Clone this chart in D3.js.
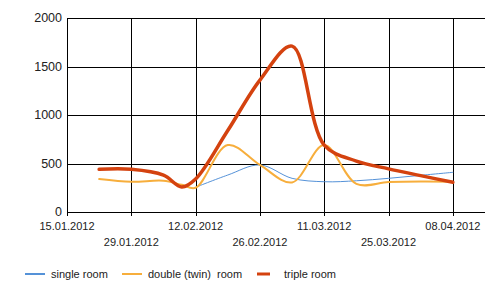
<!DOCTYPE html>
<html>
<head>
<meta charset="utf-8">
<script src="https://cdn.jsdelivr.net/npm/d3@7"></script>
<style>
  body { margin: 0; background: #fff; }
  svg { font-family: Arial, "Liberation Sans", sans-serif; }
  .grid line { stroke: #000; stroke-width: 1; shape-rendering: crispEdges; }
  .axis text { fill: #222; }
</style>
</head>
<body>
<div id="chart"></div>
<script>
// values (mostly weekly, plus the dip on 09.02)
var dates = ['22.01.2012', '29.01.2012', '05.02.2012', '09.02.2012', '12.02.2012', '19.02.2012', '26.02.2012',
             '04.03.2012', '11.03.2012', '18.03.2012', '25.03.2012', '01.04.2012', '08.04.2012'];
var singleRoom = [null, null, null, null, 255, 381, 485, 347, 312, 322, 347, 378, 409];
var doubleRoom = [340, 312, 322, 280, 250, 690, 485, 305, 690, 290, 308, 314, 312];
var tripleRoom = [440, 440, 380, 258, 340, 840, 1360, 1710, 690, 525, 445, 375, 306];
var seriesNames = ['single room', 'double (twin)  room', 'triple room'];
var yTicks = [0, 500, 1000, 1500, 2000];

var parse = d3.timeParse('%d.%m.%Y');
var fmt = d3.timeFormat('%d.%m.%Y');

var width = 500, height = 296;
var margin = { top: 18, right: 15, bottom: 84, left: 67 };

var x = d3.scaleTime()
  .domain([parse('15.01.2012'), parse('15.04.2012')])
  .range([margin.left, width - margin.right]);
var y = d3.scaleLinear()
  .domain([0, 2000])
  .range([height - margin.bottom, margin.top]);

var xTicks = d3.timeDay.range(parse('15.01.2012'), parse('09.04.2012'), 14);

var svg = d3.select('#chart').append('svg')
  .attr('width', width)
  .attr('height', height);

// grid
var grid = svg.append('g').attr('class', 'grid');
grid.selectAll('.h').data(yTicks).enter().append('line')
  .attr('x1', x.range()[0]).attr('x2', x.range()[1])
  .attr('y1', function(d) { return Math.round(y(d)) + 0.5; })
  .attr('y2', function(d) { return Math.round(y(d)) + 0.5; });
grid.selectAll('.v').data(xTicks).enter().append('line')
  .attr('x1', function(d) { return Math.round(x(d)) + 0.5; })
  .attr('x2', function(d) { return Math.round(x(d)) + 0.5; })
  .attr('y1', y(2000)).attr('y2', y(0) + 4);

// y labels
svg.append('g').attr('class', 'axis')
  .selectAll('text').data(yTicks).enter().append('text')
  .attr('x', margin.left - 5)
  .attr('y', function(d) { return y(d); })
  .attr('dy', '0.35em')
  .attr('text-anchor', 'end')
  .style('font-size', '12.5px')
  .text(function(d) { return d; });

// x labels, alternating rows
svg.append('g').attr('class', 'axis')
  .selectAll('text').data(xTicks).enter().append('text')
  .attr('x', function(d) { return x(d); })
  .attr('y', function(d, i) { return i % 2 ? 246 : 230; })
  .attr('text-anchor', 'middle')
  .style('font-size', '11px')
  .text(function(d) { return fmt(d); });

var colors = ['#5592d8', '#f7ae3c', '#d4420f'];
var widths = [1, 2, 3.5];
var series = [singleRoom, doubleRoom, tripleRoom];

var line = d3.line()
  .defined(function(d) { return d.v != null; })
  .x(function(d) { return x(d.date); })
  .y(function(d) { return y(d.v); })
  .curve(d3.curveCatmullRom.alpha(0.5));

series.forEach(function(vals, i) {
  var pts = dates.map(function(s, j) { return { date: parse(s), v: vals[j] }; });
  svg.append('path')
    .datum(pts)
    .attr('fill', 'none')
    .attr('stroke', colors[i])
    .attr('stroke-width', widths[i])
    .attr('stroke-linejoin', 'round')
    .attr('stroke-linecap', 'round')
    .attr('d', line);
});

// legend
var legendX = [25, 122, 257];
var legend = svg.append('g');
seriesNames.forEach(function(name, i) {
  legend.append('line')
    .attr('x1', legendX[i]).attr('x2', legendX[i] + (i === 2 ? 13 : 20))
    .attr('y1', 274).attr('y2', 274)
    .attr('stroke', colors[i])
    .attr('stroke-width', i === 2 ? 3 : 2);
  legend.append('text')
    .attr('x', legendX[i] + (i === 2 ? 27 : 26))
    .attr('y', 274)
    .attr('dy', '0.35em')
    .style('font-size', '11px')
    .style('fill', '#222')
    .style('white-space', 'pre')
    .text(name);
});
</script>
</body>
</html>
